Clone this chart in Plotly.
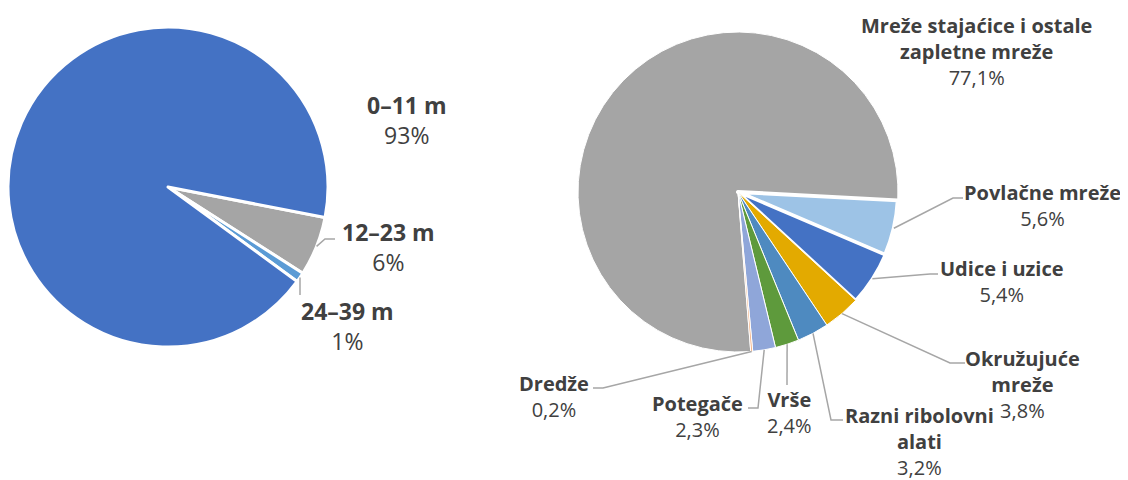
import math
import plotly.graph_objects as go

W, H = 1128, 480
OFF = 8  # the page body adds an 8px margin round the figure

# left pie: vessel length
left_labels = ["12–23 m", "24–39 m", "0–11 m"]
left_values = [6, 1, 93]
left_pct = ["6%", "1%", "93%"]
left_colors = ["#A5A5A5", "#5B9BD5", "#4472C4"]

# right pie: fishing gear (drawn clockwise, big slice first)
right_labels = ["Mreže stajaćice i ostale<br>zapletne mreže", "Povlačne mreže",
                "Udice i uzice", "Okružujuće<br>mreže", "Razni ribolovni<br>alati",
                "Vrše", "Potegače", "Dredže"]
right_values = [77.1, 5.6, 5.4, 3.8, 3.2, 2.4, 2.3, 0.2]
right_colors = ["#A5A5A5", "#9DC3E6", "#4472C4", "#E3AA00", "#4E8AC0",
                "#5E9A3C", "#8FA6D9", "#F4B183"]

TEXT = "#404040"
LINE = "#A6A6A6"
FONT = "Open Sans"


def px(x, y):
    return (x - OFF) / W, 1 - (y - OFF) / H


def domain(cx, cy, r):
    x0, y1 = px(cx - r, cy - r)
    x1, y0 = px(cx + r, cy + r)
    return dict(x=[x0, x1], y=[y0, y1])


def edge_point(cx, cy, r, rot, values, i):
    tot = sum(values)
    a = math.radians(rot + 360 * (sum(values[:i]) + values[i] / 2) / tot)
    return cx + r * math.sin(a), cy - r * math.cos(a)


# pie geometry (page pixels)
LCX, LCY, LR, LROT = 168, 187, 160, 101
RCX, RCY, RR = 738, 192, 160
# small slices begin just below 3 o'clock
RROT = 93 + 360 * sum(right_values[1:]) / sum(right_values)

fig = go.Figure()
fig.add_trace(go.Pie(labels=left_labels, values=left_values, sort=False,
                     direction="clockwise", rotation=LROT,
                     marker=dict(colors=left_colors, line=dict(color="white", width=3)),
                     textinfo="none", hoverinfo="label+percent", showlegend=False,
                     domain=domain(LCX, LCY, LR)))
fig.add_trace(go.Pie(labels=right_labels, values=right_values, sort=False,
                     direction="clockwise", rotation=RROT,
                     marker=dict(colors=right_colors,
                                 line=dict(color="white", width=[1, 4, 3, 1, 1, 1, 1, 1])),
                     textinfo="none", hoverinfo="label+percent", showlegend=False,
                     domain=domain(RCX, RCY, RR)))

# label centres and leader line elbows (page pixels)
left_pos = [(388, 247), (347, 326), (407, 120)]
left_leader = [[(325, 239), (335, 239)], [(300, 295)], None]

right_pos = [(976, 51), (1042, 205), (1002, 281), (1022, 384), (920, 441),
             (789, 412), (697, 416), (554, 396)]
right_leader = [None, [(953, 198), (963, 198)], [(930, 274), (938, 274)],
                [(950, 363), (965, 363)], [(831, 420), (843, 420)],
                [(787, 385)], [(758, 408), (748, 408)],
                [(603, 388), (593, 388)]]

right_pct = [f"{v:.1f}%".replace(".", ",") for v in right_values]

annotations = []
shapes = []


def add_labels(labels, pct, pos, leaders, size, cx, cy, r, rot, values):
    for i, name in enumerate(labels):
        x, y = px(*pos[i])
        annotations.append(dict(x=x, y=y, xref="paper", yref="paper",
                                text=f"<b>{name}</b><br>{pct[i]}", showarrow=False,
                                xanchor="center", yanchor="middle", align="center",
                                font=dict(family=FONT, size=size, color=TEXT)))
        if leaders[i]:
            pts = [edge_point(cx, cy, r, rot, values, i)] + leaders[i]
            path = "M " + " L ".join("%.5f,%.5f" % px(a, b) for a, b in pts)
            shapes.append(dict(type="path", path=path, xref="paper", yref="paper",
                               line=dict(color=LINE, width=1.5)))


add_labels(left_labels, left_pct, left_pos, left_leader, 23, LCX, LCY, LR, LROT,
           left_values)
add_labels(right_labels, right_pct, right_pos, right_leader, 20, RCX, RCY, RR, RROT,
           right_values)

fig.update_layout(width=W, height=H, margin=dict(l=0, r=0, t=0, b=0),
                  paper_bgcolor="white", plot_bgcolor="white",
                  annotations=annotations, shapes=shapes)

fig.write_html("out.html")
